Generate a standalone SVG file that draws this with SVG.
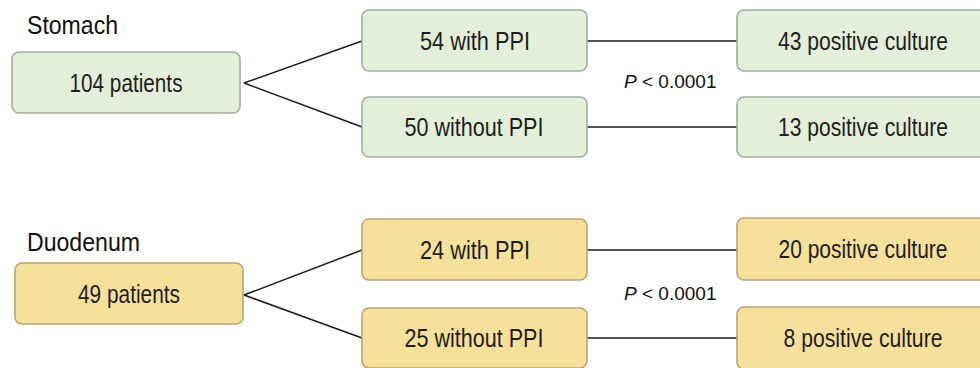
<svg xmlns="http://www.w3.org/2000/svg" width="980" height="368" viewBox="0 0 980 368">
<style>
.g{fill:#e4efda;stroke:#a3ad9e;stroke-width:1.6}
.y{fill:#f7e09a;stroke:#b5a676;stroke-width:1.6}
.t{font-family:"Liberation Sans",Arial,sans-serif;font-size:25px;fill:#1e1e1e;text-anchor:middle}
.h{font-family:"Liberation Sans",Arial,sans-serif;font-size:25px;fill:#111}
.p{font-family:"Liberation Sans",Arial,sans-serif;font-size:19px;fill:#111}
.c{stroke:#1a1a1a;stroke-width:1.5;fill:none}
</style>
<rect width="980" height="368" fill="#fff"/>
<g id="connectors">
<line class="c" x1="244" y1="83" x2="362" y2="41"/>
<line class="c" x1="244" y1="83" x2="362" y2="127"/>
<line class="c" x1="587" y1="41" x2="737" y2="41"/>
<line class="c" x1="587" y1="127" x2="737" y2="127"/>
<line class="c" x1="244" y1="295" x2="362" y2="250"/>
<line class="c" x1="244" y1="295" x2="362" y2="338"/>
<line class="c" x1="587" y1="250" x2="737" y2="250"/>
<line class="c" x1="587" y1="338" x2="737" y2="338"/>
</g>
<g id="label-stomach"><text class="h" x="27" y="34" textLength="91" lengthAdjust="spacingAndGlyphs">Stomach</text></g>
<g id="label-duodenum"><text class="h" x="27" y="251" textLength="113" lengthAdjust="spacingAndGlyphs">Duodenum</text></g>
<g id="p1"><text class="p" x="624" y="88"><tspan font-style="italic">P</tspan> &lt; 0.0001</text></g>
<g id="p2"><text class="p" x="624" y="300"><tspan font-style="italic">P</tspan> &lt; 0.0001</text></g>
<g id="s-total"><rect class="g" x="12" y="52" width="228" height="61" rx="7"/><text class="t" x="126" y="92" textLength="113" lengthAdjust="spacingAndGlyphs">104 patients</text></g>
<g id="s-ppi"><rect class="g" x="362" y="10" width="225" height="61" rx="7"/><text class="t" x="475" y="50" textLength="110" lengthAdjust="spacingAndGlyphs">54 with PPI</text></g>
<g id="s-noppi"><rect class="g" x="362" y="97" width="225" height="60" rx="7"/><text class="t" x="474" y="136" textLength="139" lengthAdjust="spacingAndGlyphs">50 without PPI</text></g>
<g id="s-pos1"><rect class="g" x="737" y="10" width="260" height="61" rx="7"/><text class="t" x="863" y="50" textLength="170" lengthAdjust="spacingAndGlyphs">43 positive culture</text></g>
<g id="s-pos2"><rect class="g" x="737" y="97" width="260" height="60" rx="7"/><text class="t" x="863" y="136" textLength="170" lengthAdjust="spacingAndGlyphs">13 positive culture</text></g>
<g id="d-total"><rect class="y" x="15" y="263" width="228" height="61" rx="7"/><text class="t" x="129" y="303" textLength="102" lengthAdjust="spacingAndGlyphs">49 patients</text></g>
<g id="d-ppi"><rect class="y" x="362" y="219" width="225" height="61" rx="7"/><text class="t" x="475" y="259" textLength="110" lengthAdjust="spacingAndGlyphs">24 with PPI</text></g>
<g id="d-noppi"><rect class="y" x="362" y="308" width="225" height="60" rx="7"/><text class="t" x="474" y="347" textLength="139" lengthAdjust="spacingAndGlyphs">25 without PPI</text></g>
<g id="d-pos1"><rect class="y" x="737" y="218" width="260" height="62" rx="7"/><text class="t" x="863" y="258" textLength="169" lengthAdjust="spacingAndGlyphs">20 positive culture</text></g>
<g id="d-pos2"><rect class="y" x="737" y="307" width="260" height="62" rx="7"/><text class="t" x="863" y="347" textLength="159" lengthAdjust="spacingAndGlyphs">8 positive culture</text></g>
</svg>
